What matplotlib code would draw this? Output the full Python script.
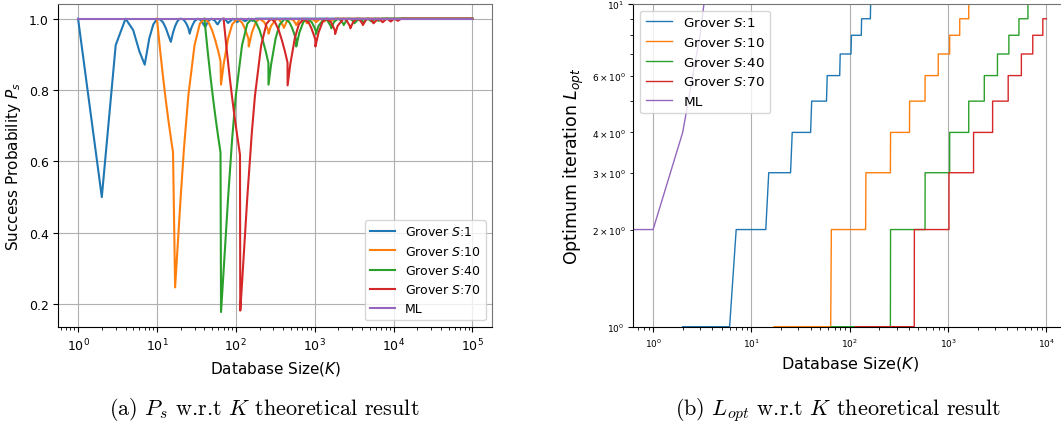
import matplotlib
matplotlib.use("Agg")
import matplotlib.pyplot as plt

# (a) success probability (minima / maxima)
k_s1 = [1, 2, 3, 4, 5, 6, 7, 8, 9, 10, 11, 12, 13, 14, 15, 16, 17, 18, 19, 20,
        21, 22, 23, 24, 25, 26, 27, 28, 30, 33, 36, 40, 41, 45, 49, 54, 58, 59,
        64, 69, 75, 79, 80, 92, 103, 104, 117, 131, 132, 147, 162, 163, 179, 100000]
p_s1 = [1.0, 0.5, 0.926, 1.0, 0.968, 0.908, 0.871, 0.945, 0.984, 0.999, 0.998,
        0.989, 0.973, 0.953, 0.935, 0.961, 0.979, 0.991, 0.998, 1.0, 0.999, 0.996,
        0.990, 0.983, 0.974, 0.958, 0.971, 0.980, 0.993, 1.0, 0.996, 0.980, 0.977,
        0.994, 1.0, 0.995, 0.985, 0.984, 0.997, 1.0, 0.996, 0.989, 0.988, 1.0,
        0.992, 0.990, 1.0, 0.993, 0.993, 1.0, 0.994, 0.994, 1.0, 1.0]

k_s10 = [10, 11, 12, 13, 14, 15, 16, 17, 18, 20, 22, 25, 30, 35, 40, 45, 50, 55,
         60, 64, 65, 70, 80, 90, 105, 120, 130, 140, 145, 146, 160, 180, 200, 230,
         250, 259, 260, 280, 332, 360, 405, 406, 440, 494, 540, 583, 584, 640, 688,
         750, 794, 795, 915, 1037, 1038, 1175, 1313, 1314, 1466, 1621, 1622, 1791,
         100000]
p_s10 = [1.0, 0.909, 0.833, 0.769, 0.714, 0.667, 0.625, 0.247, 0.336, 0.5, 0.635,
         0.784, 0.926, 0.986, 1.0, 0.990, 0.968, 0.939, 0.908, 0.881, 0.815, 0.871,
         0.945, 0.984, 1.0, 0.989, 0.973, 0.953, 0.943, 0.922, 0.961, 0.991, 1.0,
         0.990, 0.974, 0.966, 0.958, 0.980, 1.0, 0.996, 0.977, 0.974, 0.991, 1.0,
         0.995, 0.984, 0.982, 0.997, 1.0, 0.996, 0.989, 0.987, 1.0, 0.992, 0.990,
         1.0, 0.993, 0.992, 1.0, 0.994, 0.994, 1.0, 1.0]

k_s40 = [40, 44, 48, 52, 56, 60, 64, 65, 70, 80, 90, 100, 120, 140, 160, 180, 200,
         220, 240, 259, 260, 280, 320, 360, 419, 480, 520, 560, 583, 584, 640, 720,
         808, 920, 1000, 1037, 1038, 1120, 1326, 1440, 1621, 1622, 1760, 1975, 2160,
         2334, 2335, 2560, 2753, 3000, 3177, 3178, 3661, 4150, 4151, 4700, 5252,
         5253, 5864, 6484, 6485, 7164, 100000]
p_s40 = [1.0, 0.909, 0.833, 0.769, 0.714, 0.667, 0.625, 0.178, 0.292, 0.5, 0.665,
         0.784, 0.926, 0.986, 1.0, 0.990, 0.968, 0.939, 0.908, 0.876, 0.815, 0.871,
         0.945, 0.984, 1.0, 0.989, 0.973, 0.953, 0.941, 0.922, 0.961, 0.991, 1.0,
         0.990, 0.974, 0.965, 0.957, 0.980, 1.0, 0.996, 0.977, 0.973, 0.991, 1.0,
         0.995, 0.984, 0.982, 0.997, 1.0, 0.996, 0.988, 0.987, 1.0, 0.991, 0.990,
         1.0, 0.993, 0.992, 1.0, 0.994, 0.994, 1.0, 1.0]

k_s70 = [70, 77, 84, 91, 98, 105, 113, 114, 120, 140, 160, 175, 210, 245, 280, 315,
         350, 385, 420, 453, 454, 490, 560, 630, 733, 840, 910, 980, 1021, 1022,
         1120, 1260, 1413, 1610, 1750, 1815, 1816, 1960, 2321, 2520, 2836, 2837,
         3080, 3457, 3780, 4085, 4086, 4480, 4817, 5250, 5560, 5561, 6407, 7262,
         7263, 8225, 9191, 9192, 10262, 11347, 11348, 12537, 100000]
p_s70 = [1.0, 0.909, 0.833, 0.769, 0.714, 0.667, 0.619, 0.182, 0.259, 0.5, 0.683,
         0.784, 0.926, 0.986, 1.0, 0.990, 0.968, 0.939, 0.908, 0.877, 0.813, 0.871,
         0.945, 0.984, 1.0, 0.989, 0.973, 0.953, 0.941, 0.922, 0.961, 0.991, 1.0,
         0.990, 0.974, 0.965, 0.957, 0.980, 1.0, 0.996, 0.977, 0.973, 0.991, 1.0,
         0.995, 0.984, 0.982, 0.997, 1.0, 0.996, 0.988, 0.987, 1.0, 0.991, 0.990,
         1.0, 0.993, 0.992, 1.0, 0.994, 0.994, 1.0, 1.0]

k_ml = [1, 100000]
p_ml = [1.0, 1.0]

# (b) optimum iteration count, steps at integer K
kl_s1 = [2, 6, 7, 14, 15, 25, 26, 40, 41, 58, 59, 79, 80, 103, 104, 131, 132,
         162, 163, 196, 197, 233, 234]
l_s1 = [1, 1, 2, 2, 3, 3, 4, 4, 5, 5, 6, 6, 7, 7, 8, 8, 9, 9, 10, 10, 11, 11, 12]
kl_s10 = [17, 64, 65, 145, 146, 259, 260, 405, 406, 583, 584, 794, 795, 1037,
          1038, 1313, 1314, 1621, 1622, 1961, 1962, 2334, 2335]
l_s10 = [1, 1, 2, 2, 3, 3, 4, 4, 5, 5, 6, 6, 7, 7, 8, 8, 9, 9, 10, 10, 11, 11, 12]
kl_s40 = [65, 259, 260, 583, 584, 1037, 1038, 1621, 1622, 2334, 2335, 3177, 3178,
          4150, 4151, 5252, 5253, 6484, 6485, 7846, 7847, 9337, 9338, 10000]
l_s40 = [1, 1, 2, 2, 3, 3, 4, 4, 5, 5, 6, 6, 7, 7, 8, 8, 9, 9, 10, 10, 11, 11, 12, 12]
kl_s70 = [114, 453, 454, 1021, 1022, 1815, 1816, 2836, 2837, 4085, 4086, 5560,
          5561, 7262, 7263, 9191, 9192, 10000]
l_s70 = [1, 1, 2, 2, 3, 3, 4, 4, 5, 5, 6, 6, 7, 7, 8, 8, 9, 9]
kl_ml = [0, 1, 2, 3, 4]
l_ml = [2, 2, 4, 8, 16]

labels = ["Grover $S$:1", "Grover $S$:10", "Grover $S$:40", "Grover $S$:70", "ML"]

fig = plt.figure(figsize=(10.61, 4.31), dpi=100)

# ---- left: success probability
ax1 = fig.add_axes([0.0550, 0.2397, 0.4088, 0.7487])
for k, p, lab in zip([k_s1, k_s10, k_s40, k_s70, k_ml],
                     [p_s1, p_s10, p_s40, p_s70, p_ml], labels):
    ax1.plot(k, p, label=lab, lw=1.5)
ax1.set_xscale("log")
ax1.grid(True, color="#b0b0b0", lw=0.8)
ax1.set_xlabel("Database Size($K$)", fontsize=11)
ax1.set_ylabel("Success Probability $P_s$", fontsize=11)
ax1.tick_params(labelsize=9)
ax1.legend(loc="lower right", fontsize=9)

# ---- right: optimum iteration
ax2 = fig.add_axes([0.5970, 0.2397, 0.4078, 0.7487])
for k, l, lab in zip([kl_s1, kl_s10, kl_s40, kl_s70, kl_ml],
                     [l_s1, l_s10, l_s40, l_s70, l_ml], labels):
    ax2.plot(k, l, label=lab, lw=1.0)
ax2.set_xscale("log", nonpositive="clip")
ax2.set_yscale("log")
ax2.set_xlim(10 ** -0.2, 10 ** 4.2)
ax2.set_ylim(1, 10)
ax2.grid(True, axis="x", color="#b0b0b0", lw=0.8)
ax2.set_xlabel("Database Size($K$)", fontsize=11.5)
ax2.set_ylabel("Optimum iteration $L_{opt}$", fontsize=12.5)
ax2.tick_params(which="both", labelsize=6.5)
ax2.legend(loc="upper left", fontsize=9.7)

for ax in (ax1, ax2):
    ax.spines["top"].set_color("0.45")
    ax.spines["right"].set_color("0.45")

# captions in LaTeX-like font
fig.text(0.249, 0.049, r"(a) $P_s$ w.r.t $K$ theoretical result", ha="center",
         va="center", fontsize=16, family="cmr10", math_fontfamily="cm")
fig.text(0.790, 0.049, r"(b) $L_{opt}$ w.r.t $K$ theoretical result", ha="center",
         va="center", fontsize=16, family="cmr10", math_fontfamily="cm")

fig.savefig("out.png", dpi=100)
